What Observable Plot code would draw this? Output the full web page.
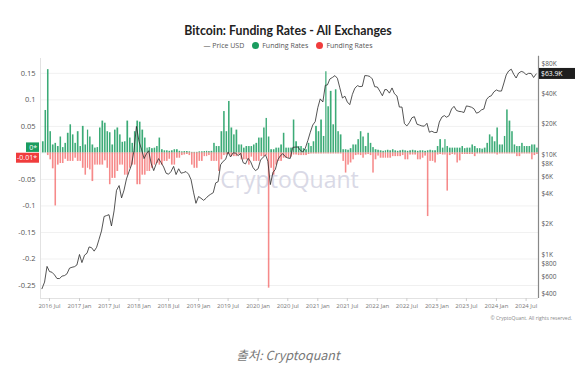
<!DOCTYPE html>
<html><head><meta charset="utf-8">
<script src="https://cdn.jsdelivr.net/npm/d3@7"></script>
<script src="https://cdn.jsdelivr.net/npm/@observablehq/plot@0.6"></script>
<style>
body{margin:0;background:#fff;font-family:"Open Sans",sans-serif;}
#wrap{position:relative;width:576px;height:372px;overflow:hidden;background:#fff;}
#title{position:absolute;top:23px;left:0;width:576px;text-align:center;font-family:Lato,"Open Sans",sans-serif;font-weight:700;font-size:12.3px;color:#222;line-height:16px;}
#legend{position:absolute;top:40px;left:0;width:576px;text-align:center;font-size:7px;color:#555;line-height:12px;}
#legend .dot{display:inline-block;width:7px;height:7px;border-radius:50%;vertical-align:-1px;margin:0 3px 0 8px;}
.plot{position:absolute;left:0;top:0;}
#copy{position:absolute;top:315px;right:4px;font-size:5px;color:#888;}
#caption{position:absolute;top:345px;left:0;width:576px;text-align:center;font-family:"Noto Sans CJK KR","Open Sans",sans-serif;font-style:italic;font-size:12.5px;color:#777;}
</style>
</head><body>
<div id="wrap">
  <div id="title">Bitcoin: Funding Rates - All Exchanges</div>
  <div id="legend">— Price USD<span class="dot" style="background:#1a9c5f"></span>Funding Rates<span class="dot" style="background:#f03c3c"></span>Funding Rates</div>
  <div id="copy">© CryptoQuant. All rights reserved.</div>
  <div id="caption">출처: Cryptoquant</div>
</div>
<script>
// Semi-monthly periods (1st and 16th), 2016-05-16 .. 2024-09-01
const firstPeriod = Date.UTC(2016, 4, 16);
const lastPeriod = Date.UTC(2024, 8, 1);

// Funding rate: positive (green) per period
const fundingPos = [
  .021,.08,.157,.04,.015,.018,.012,.03,.01,.018,.037,.053,.034,.018,.04, // 2016
  .012,.05,.015,.043,.03,.015,.009,.01,.047,.06,.056,.04,.038,.015,.043,.047,.034,.02,.021,.06,.028,.018,.04,.06, // 2017
  .058,.043,.028,.009,.01,.008,.009,.012,.028,.006,.004,.004,.003,.004,.006,.006,.003,.002,.0025,.0025,.002,.001,.001,.001, // 2018
  .002,.002,.0025,.003,.0025,.003,.018,.012,.012,.04,.078,.04,.097,.047,.034,.043,.015,.015,.009,.012,.012,.012,.015,.018, // 2019
  .028,.028,.047,.065,.03,.006,.006,.009,.009,.015,.037,.009,.009,.009,.062,.021,.012,.012,.008,.006,.018,.012,.021,.05, // 2020
  .04,.062,.031,.153,.087,.116,.053,.119,.04,.034,.006,.006,.005,.008,.015,.015,.025,.04,.03,.012,.037,.018,.01,.006, // 2021
  .005,.004,.003,.004,.005,.004,.006,.004,.003,.004,.005,.004,.003,.004,.005,.004,.003,.004,.004,.003,.004,.005,.004,.004, // 2022
  .012,.025,.009,.025,.012,.009,.009,.009,.009,.009,.012,.008,.009,.009,.015,.012,.008,.008,.007,.009,.018,.034,.03,.021, // 2023
  .047,.015,.015,.031,.081,.06,.04,.015,.012,.012,.018,.012,.012,.012,.015,.015,.009 // 2024
];
// Funding rate: negative (red) per period
const fundingNeg = [
  0,0,-.005,-.013,-.03,-.1,-.023,-.02,-.02,-.012,-.016,-.016,-.016,-.01,-.016, // 2016
  -.016,-.029,-.042,-.029,-.032,-.054,-.023,-.023,-.023,-.023,-.015,-.029,-.06,-.048,-.048,-.035,-.023,-.023,-.042,-.042,-.029,-.023,-.023,-.06, // 2017
  -.06,-.042,-.042,-.035,-.035,-.029,-.023,-.02,-.023,-.023,-.016,-.016,-.012,-.023,-.023,-.01,-.01,-.005,-.004,-.003,-.005,-.023,-.029,-.029, // 2018
  -.016,-.016,-.007,-.007,-.005,-.016,-.016,-.016,-.035,-.013,-.005,-.004,-.003,-.007,-.007,-.007,-.004,-.013,-.013,-.013,-.023,-.008,-.016,-.016, // 2019
  -.016,-.007,-.007,-.005,-.255,-.029,-.042,-.023,-.016,-.016,-.01,-.01,-.01,-.008,-.004,-.004,-.005,-.005,-.005,-.005,-.003,-.002,-.002,-.002, // 2020
  -.002,-.002,-.002,-.002,-.002,-.002,-.002,-.002,-.002,-.002,-.016,-.038,-.023,-.019,-.013,-.005,-.004,-.005,-.01,-.004,-.003,-.005,-.038,-.013, // 2021
  -.006,-.01,-.01,-.01,-.01,-.01,-.007,-.007,-.007,-.007,-.005,-.013,-.013,-.004,-.004,-.004,-.013,-.013,-.01,-.006,-.12,-.016,-.016,-.019, // 2022
  -.004,-.003,-.004,-.004,-.072,-.005,-.003,-.004,-.019,-.015,-.003,-.003,-.003,-.003,-.003,-.007,-.002,-.002,-.002,-.002,-.002,-.002,-.002,-.002, // 2023
  -.004,-.002,-.002,-.002,-.002,-.002,-.002,-.002,-.007,-.007,-.002,-.002,-.002,-.002,-.013,-.005,-.003 // 2024
];
// BTC price (USD) per period
const priceUSD = [
  455,530,760,675,665,625,575,575,608,615,640,730,745,755,785, // 2016
  1000,830,985,1030,1190,1170,1080,1180,1420,1720,2400,2450,2500,1930,2730,4380,4890,3680,4400,5700,6750,7870,10900,19100, // 2017
  13500,11300,9100,10200,10900,8200,6900,8050,9100,8300,7500,6500,6350,6750,7600,6300,7200,6500,6600,6750,6350,5600,4200,3250, // 2018
  3800,3650,3480,3650,3850,4000,4150,5200,5350,7900,8550,8950,10600,9450,10400,10300,9750,10250,8300,8050,9150,8500,7400,6900, // 2019
  7200,8800,9400,9900,8550,5000,6600,7100,8850,9700,10200,9500,9230,9130,11800,11850,11900,11000,10600,11500,13800,16700,19700,21300, // 2020
  29400,36000,33500,49200,49600,56900,59000,61500,57800,46400,36700,38300,33500,31500,39900,46000,48800,47700,48100,61500,61300,60300,57000,47600, // 2021
  47300,43100,38700,44600,44400,41100,46300,40500,38500,29800,29800,20400,19300,20800,23300,23900,20100,19700,19300,19200,20500,16700,17100,16600, // 2022
  16600,21100,23700,24500,23600,24400,28500,30300,27600,27000,26800,26300,30600,30250,29700,28700,25900,26500,27900,28500,35400,37800,38700,42200, // 2023
  44200,43100,43100,51900,62400,68400,71300,63400,58200,65200,67700,66600,62700,64800,64600,58900,63900 // 2024
];
const leftTicks = [0.15, 0.1, 0.05, -0.05, -0.1, -0.15, -0.2, -0.25];
const rightTicks = [80000, 40000, 20000, 10000, 8000, 6000, 4000, 2000, 1000, 800, 600, 400];
const lastPriceLabel = "$63.9K";
const lastPriceValue = 63900;
const zeroLabel = "0*";
const negLabel = "-0.01*";
const negLabelValue = -0.01;

// period dates
const dates = [];
for (let y = 2016; y <= 2024; y++) for (let m = 0; m < 12; m++) for (const d of [1, 16]) {
  const t = Date.UTC(y, m, d);
  if (t >= firstPeriod && t <= lastPeriod) dates.push(new Date(t));
}
const rows = dates.map((date, i) => ({
  date,
  end: i + 1 < dates.length ? dates[i + 1] : new Date(+date + 15 * 864e5),
  pos: fundingPos[i], neg: fundingNeg[i], price: priceUSD[i]
}));

const xDomain = [new Date("2016-05-07"), new Date("2024-09-15")];
const W = 576, H = 330, mt = 58, mb = 32, ml = 40, mr = 38;
const green = "#1a9c5f", red = "#f03c3c";
const fmtPrice = d => d >= 1000 ? "$" + d / 1000 + "K" : "$" + d;

const p1 = Plot.plot({
  width: W, height: H, marginTop: mt, marginBottom: mb, marginLeft: ml, marginRight: mr,
  style: {fontFamily: "Open Sans, sans-serif", background: "transparent", overflow: "visible"},
  x: {type: "utc", domain: xDomain},
  y: {domain: [-0.2745, 0.178]},
  marks: [
    Plot.gridY(leftTicks.concat([0]), {stroke: "#000", strokeOpacity: 0.06}),
    Plot.text(["CryptoQuant"], {frameAnchor: "middle", dy: 2, fontSize: 23, fill: "#d9d9e6", fontWeight: 500}),
    Plot.rectY(rows, {x1: "date", x2: "end", y1: 0, y2: "pos", fill: green, fillOpacity: 0.85, insetLeft: 0.45, insetRight: 0.45}),
    Plot.rectY(rows, {x1: "date", x2: "end", y1: 0, y2: "neg", fill: red, fillOpacity: 0.6, insetLeft: 0.45, insetRight: 0.45}),
    Plot.ruleX([xDomain[0]], {stroke: "#e2e2e2"}),
    Plot.ruleY([-0.2745], {stroke: "#e2e2e2"}),
    Plot.axisY({ticks: leftTicks, tickFormat: d => String(d), tickSize: 0, tickPadding: 5, fontSize: 7.5, color: "#555", label: null}),
    Plot.axisX({ticks: d3.utcMonth.every(6), tickFormat: d3.utcFormat("%Y %b"), tickSize: 3, tickPadding: 2, fontSize: 6, color: "#777", stroke: "#ccc", label: null})
  ]
});
p1.classList.add("plot");

const p2 = Plot.plot({
  width: W, height: H, marginTop: mt, marginBottom: mb, marginLeft: ml, marginRight: mr,
  style: {fontFamily: "Open Sans, sans-serif", background: "transparent", overflow: "visible"},
  x: {type: "utc", domain: xDomain, axis: null},
  y: {type: "log", domain: [363, 91200], axis: null},
  marks: [
    Plot.line(rows, {x: "date", y: "price", stroke: "#2a2a2a", strokeWidth: 0.8}),
    Plot.ruleX([xDomain[1]], {stroke: "#888", strokeWidth: 1.2, y1: 363, y2: 96000}),
    Plot.text(rightTicks, {y: d => d, text: fmtPrice, frameAnchor: "right", textAnchor: "start", dx: 3, fontSize: 6.5, fill: "#555"})
  ]
});
p2.classList.add("plot");

const wrap = document.getElementById("wrap");
wrap.appendChild(p1);
wrap.appendChild(p2);

// value tags
const y1 = p1.scale("y"), y2 = p2.scale("y");
const s1 = d3.select(p1), s2 = d3.select(p2);
const yz = y1.apply(0), yn = y1.apply(negLabelValue);
const g1 = s1.append("g").attr("font-size", 7).attr("font-family", "Open Sans, sans-serif");
g1.append("rect").attr("x", 26).attr("y", yz - 10).attr("width", 13).attr("height", 9.5).attr("fill", green);
g1.append("text").attr("x", 37).attr("y", yz - 5).attr("dy", "0.35em").attr("text-anchor", "end").attr("fill", "#fff").text(zeroLabel);
g1.append("rect").attr("x", 16).attr("y", yn - 5).attr("width", 23).attr("height", 10).attr("fill", red);
g1.append("text").attr("x", 37).attr("y", yn).attr("dy", "0.35em").attr("text-anchor", "end").attr("fill", "#fff").text(negLabel);
const yp = y2.apply(lastPriceValue);
const g2 = s2.append("g").attr("font-size", 6.8).attr("font-family", "Open Sans, sans-serif");
g2.append("rect").attr("x", 539).attr("y", yp - 5.5).attr("width", 36).attr("height", 11).attr("fill", "#1e1e1e");
g2.append("text").attr("x", 541).attr("y", yp).attr("dy", "0.35em").attr("text-anchor", "start").attr("fill", "#fff").text(lastPriceLabel);
</script>
</body></html>
